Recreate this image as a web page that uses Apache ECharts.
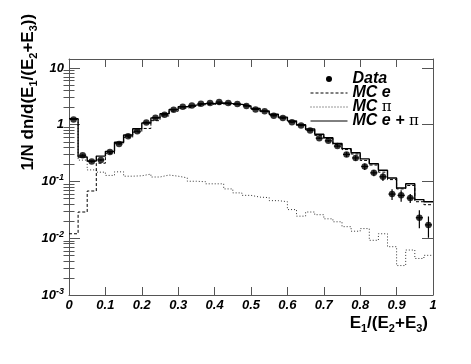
<!DOCTYPE html>
<html>
<head>
<meta charset="utf-8">
<script src="https://cdn.jsdelivr.net/npm/echarts@6/dist/echarts.min.js"></script>
<style>
html, body { margin: 0; padding: 0; background: #fff; }
#chart { width: 471px; height: 364px; }
</style>
</head>
<body>
<div id="chart"></div>
<script>
// bin edges of E1/(E2+E3), 40 bins
var binEdges = [0, 0.025, 0.05, 0.075, 0.1, 0.125, 0.15, 0.175, 0.2, 0.225,
  0.25, 0.275, 0.3, 0.325, 0.35, 0.375, 0.4, 0.425, 0.45, 0.475,
  0.5, 0.525, 0.55, 0.575, 0.6, 0.625, 0.65, 0.675, 0.7, 0.725,
  0.75, 0.775, 0.8, 0.825, 0.85, 0.875, 0.9, 0.925, 0.95, 0.975, 1];

var dataVal = [1.24, 0.29, 0.225, 0.24, 0.33, 0.46, 0.63, 0.77, 1.1, 1.33,
  1.5, 1.84, 2.08, 2.19, 2.35, 2.41, 2.51, 2.41, 2.32, 2.14,
  1.86, 1.72, 1.44, 1.31, 1.11, 0.97, 0.79, 0.58, 0.52, 0.42,
  0.30, 0.26, 0.184, 0.142, 0.121, 0.060, 0.057, 0.051, 0.023, 0.0172];

var dataErr = [0.03, 0.012, 0.01, 0.01, 0.012, 0.015, 0.018, 0.02, 0.025, 0.03,
  0.03, 0.035, 0.04, 0.04, 0.04, 0.04, 0.04, 0.04, 0.04, 0.04,
  0.04, 0.035, 0.035, 0.03, 0.03, 0.028, 0.025, 0.022, 0.02, 0.022,
  0.03, 0.028, 0.024, 0.018, 0.019, 0.013, 0.013, 0.009, 0.008, 0.007];

var mcE = [0.012, 0.029, 0.068, 0.21, 0.31, 0.47, 0.6, 0.74, 0.86, 1.18,
  1.43, 1.73, 1.96, 2.12, 2.26, 2.29, 2.33, 2.29, 2.22, 2.08,
  1.88, 1.7, 1.48, 1.32, 1.14, 0.98, 0.81, 0.65, 0.57, 0.45,
  0.365, 0.305, 0.235, 0.195, 0.146, 0.108, 0.074, 0.085, 0.044, 0.039];

var mcPi = [1.26, 0.238, 0.16, 0.146, 0.128, 0.148, 0.124, 0.126, 0.135, 0.12,
  0.13, 0.124, 0.116, 0.101, 0.099, 0.091, 0.091, 0.074, 0.063, 0.057,
  0.053, 0.052, 0.046, 0.044, 0.032, 0.0245, 0.029, 0.026, 0.022, 0.0195,
  0.016, 0.0133, 0.0148, 0.0092, 0.012, 0.0071, 0.0033, 0.0062, 0.0044, 0.005];

var mcSum = [1.28, 0.27, 0.23, 0.28, 0.34, 0.49, 0.66, 0.85, 1.07, 1.32,
  1.56, 1.86, 2.08, 2.22, 2.36, 2.38, 2.42, 2.36, 2.28, 2.14,
  1.93, 1.75, 1.53, 1.36, 1.17, 1.0, 0.84, 0.68, 0.59, 0.47,
  0.38, 0.32, 0.25, 0.205, 0.158, 0.115, 0.077, 0.091, 0.048, 0.044];

var yDecades = [-3, -2, -1, 0, 1];
var minorSteps = [2, 3, 4, 5, 6, 7, 8, 9];
var yTop = 14.4;

var FONT = 'Liberation Sans';
var AXIS_COLOR = '#555';

function lg(v) { return Math.log10(v); }

function stepLine(vals) {
  var pts = [];
  for (var i = 0; i < vals.length; i++) {
    pts.push([binEdges[i], lg(vals[i])]);
    pts.push([binEdges[i + 1], lg(vals[i])]);
  }
  return pts;
}

var minorTicks = [];
yDecades.forEach(function (p) {
  minorSteps.forEach(function (m) {
    var v = m * Math.pow(10, p);
    if (v < yTop) minorTicks.push(lg(v));
  });
});

var points = [];
var errBars = [];
for (var i = 0; i < dataVal.length; i++) {
  var xc = (binEdges[i] + binEdges[i + 1]) / 2;
  points.push([xc, lg(dataVal[i])]);
  errBars.push([xc, lg(dataVal[i]), lg(dataVal[i] - dataErr[i]), lg(dataVal[i] + dataErr[i]),
    binEdges[i], binEdges[i + 1]]);
}

var chart = echarts.init(document.getElementById('chart'));

var labelRich = {
  b: { fontFamily: FONT, fontWeight: 'bold', fontStyle: 'italic', fontSize: 13, color: '#000', lineHeight: 16 },
  s: { fontFamily: FONT, fontWeight: 'bold', fontStyle: 'italic', fontSize: 9, color: '#000', lineHeight: 9, verticalAlign: 'top' }
};
var titleRich = {
  b: { fontFamily: FONT, fontWeight: 'bold', fontSize: 17, color: '#000', lineHeight: 22 },
  sub: { fontFamily: FONT, fontWeight: 'bold', fontSize: 11, color: '#000', lineHeight: 10, verticalAlign: 'bottom' }
};

function frameAxis(extra) {
  var a = {
    axisLine: { show: true, onZero: false, lineStyle: { color: AXIS_COLOR, width: 1 } },
    splitLine: { show: false },
    axisLabel: { show: false },
    axisTick: { show: false }
  };
  for (var k in extra) a[k] = extra[k];
  return a;
}

var option = {
  animation: false,
  backgroundColor: '#fff',
  grid: { left: 69, right: 38, top: 59, bottom: 69 },
  legend: {
    orient: 'vertical',
    left: 305,
    top: 66,
    itemWidth: 37,
    itemHeight: 6,
    itemGap: -2,
    selectedMode: false,
    itemStyle: { opacity: 0 },
    lineStyle: { width: 1 },
    data: [
      { name: 'Data', icon: 'circle', itemStyle: { color: '#000', opacity: 1 } },
      'MC e', 'MC \u03c0', 'MC e + \u03c0'
    ],
    formatter: function (name) {
      if (name === 'MC \u03c0') return '{t|MC }{p|\u03c0}';
      if (name === 'MC e + \u03c0') return '{t|MC e + }{p|\u03c0}';
      return '{t|' + name + '}';
    },
    textStyle: {
      lineHeight: 15,
      rich: {
        t: { fontFamily: FONT, fontWeight: 'bold', fontStyle: 'italic', fontSize: 16, color: '#000', lineHeight: 15 },
        p: { fontFamily: 'DejaVu Serif', fontSize: 15, color: '#000', lineHeight: 15 }
      }
    }
  },
  xAxis: [
    frameAxis({
      type: 'value', min: 0, max: 1, interval: 0.1, position: 'bottom',
      axisTick: { show: true, inside: true, length: 8, lineStyle: { color: AXIS_COLOR } },
      axisLabel: {
        show: true, margin: 4, fontFamily: FONT, fontWeight: 'bold', fontStyle: 'italic',
        fontSize: 13, color: '#000',
        formatter: function (v) { return v === 0 ? '0' : (v === 1 ? '1' : v.toFixed(1)); }
      },
      name: '{b|E}{sub|1}{b|/(E}{sub|2}{b|+E}{sub|3}{b|)}',
      nameLocation: 'end',
      nameGap: -5,
      nameTextStyle: { align: 'right', verticalAlign: 'top', padding: [17, 0, 0, 0], rich: titleRich }
    }),
    frameAxis({
      type: 'value', min: 0, max: 1, interval: 0.1, position: 'top',
      axisTick: { show: true, inside: true, length: 8, lineStyle: { color: AXIS_COLOR } }
    })
  ],
  yAxis: [
    frameAxis({
      type: 'value', min: -3, max: lg(yTop), position: 'left',
      axisTick: { show: true, inside: true, length: 11, customValues: yDecades, lineStyle: { color: AXIS_COLOR } },
      axisLabel: {
        show: true, margin: 5, customValues: yDecades,
        formatter: function (v) {
          var n = Math.round(v);
          if (n === 0) return '{b|1}';
          if (n === 1) return '{b|10}';
          return '{b|10}{s|' + n + '}';
        },
        rich: labelRich
      },
      name: '{b|1/N dn/d(E}{sub|1}{b|/(E}{sub|2}{b|+E}{sub|3}{b|))}',
      nameLocation: 'end',
      nameRotate: 90,
      nameGap: 2,
      nameTextStyle: { align: 'right', verticalAlign: 'bottom', padding: [0, 0, 30, 0], rich: titleRich }
    }),
    frameAxis({
      type: 'value', min: -3, max: lg(yTop), position: 'left',
      axisLine: { show: false },
      axisTick: { show: true, inside: true, length: 5.5, customValues: minorTicks, lineStyle: { color: AXIS_COLOR } }
    }),
    frameAxis({
      type: 'value', min: -3, max: lg(yTop), position: 'right',
      axisTick: { show: true, inside: true, length: 11, customValues: yDecades, lineStyle: { color: AXIS_COLOR } }
    }),
    frameAxis({
      type: 'value', min: -3, max: lg(yTop), position: 'right',
      axisLine: { show: false },
      axisTick: { show: true, inside: true, length: 5.5, customValues: minorTicks, lineStyle: { color: AXIS_COLOR } }
    })
  ],
  series: [
    {
      name: 'MC \u03c0', type: 'line', data: stepLine(mcPi), symbol: 'none',
      lineStyle: { color: '#333', width: 1, type: [1, 2] },
      itemStyle: { color: '#333' }, emphasis: { disabled: true }, z: 2
    },
    {
      name: 'MC e', type: 'line', data: stepLine(mcE), symbol: 'none',
      lineStyle: { color: '#000', width: 1, type: [3, 2] },
      itemStyle: { color: '#000' }, emphasis: { disabled: true }, z: 3
    },
    {
      name: 'MC e + \u03c0', type: 'line', data: stepLine(mcSum), symbol: 'none',
      lineStyle: { color: '#000', width: 1.4 },
      itemStyle: { color: '#000' }, emphasis: { disabled: true }, z: 4
    },
    {
      name: 'Data', type: 'custom', data: errBars, z: 5,
      itemStyle: { color: '#000' },
      renderItem: function (params, api) {
        var c = api.coord([api.value(0), api.value(1)]);
        var lo = api.coord([api.value(0), api.value(2)]);
        var hi = api.coord([api.value(0), api.value(3)]);
        var l = api.coord([api.value(4), api.value(1)]);
        var r = api.coord([api.value(5), api.value(1)]);
        var st = { stroke: '#000', lineWidth: 1.2 };
        return {
          type: 'group',
          children: [
            { type: 'line', shape: { x1: c[0], y1: lo[1], x2: c[0], y2: hi[1] }, style: st },
            { type: 'line', shape: { x1: l[0] + 1, y1: c[1], x2: r[0] - 1, y2: c[1] }, style: st }
          ]
        };
      }
    },
    {
      name: 'Data', type: 'scatter', data: points, symbol: 'circle', symbolSize: 6.5,
      itemStyle: { color: '#000' }, emphasis: { disabled: true }, z: 6
    }
  ]
};

chart.setOption(option);
</script>
</body>
</html>
